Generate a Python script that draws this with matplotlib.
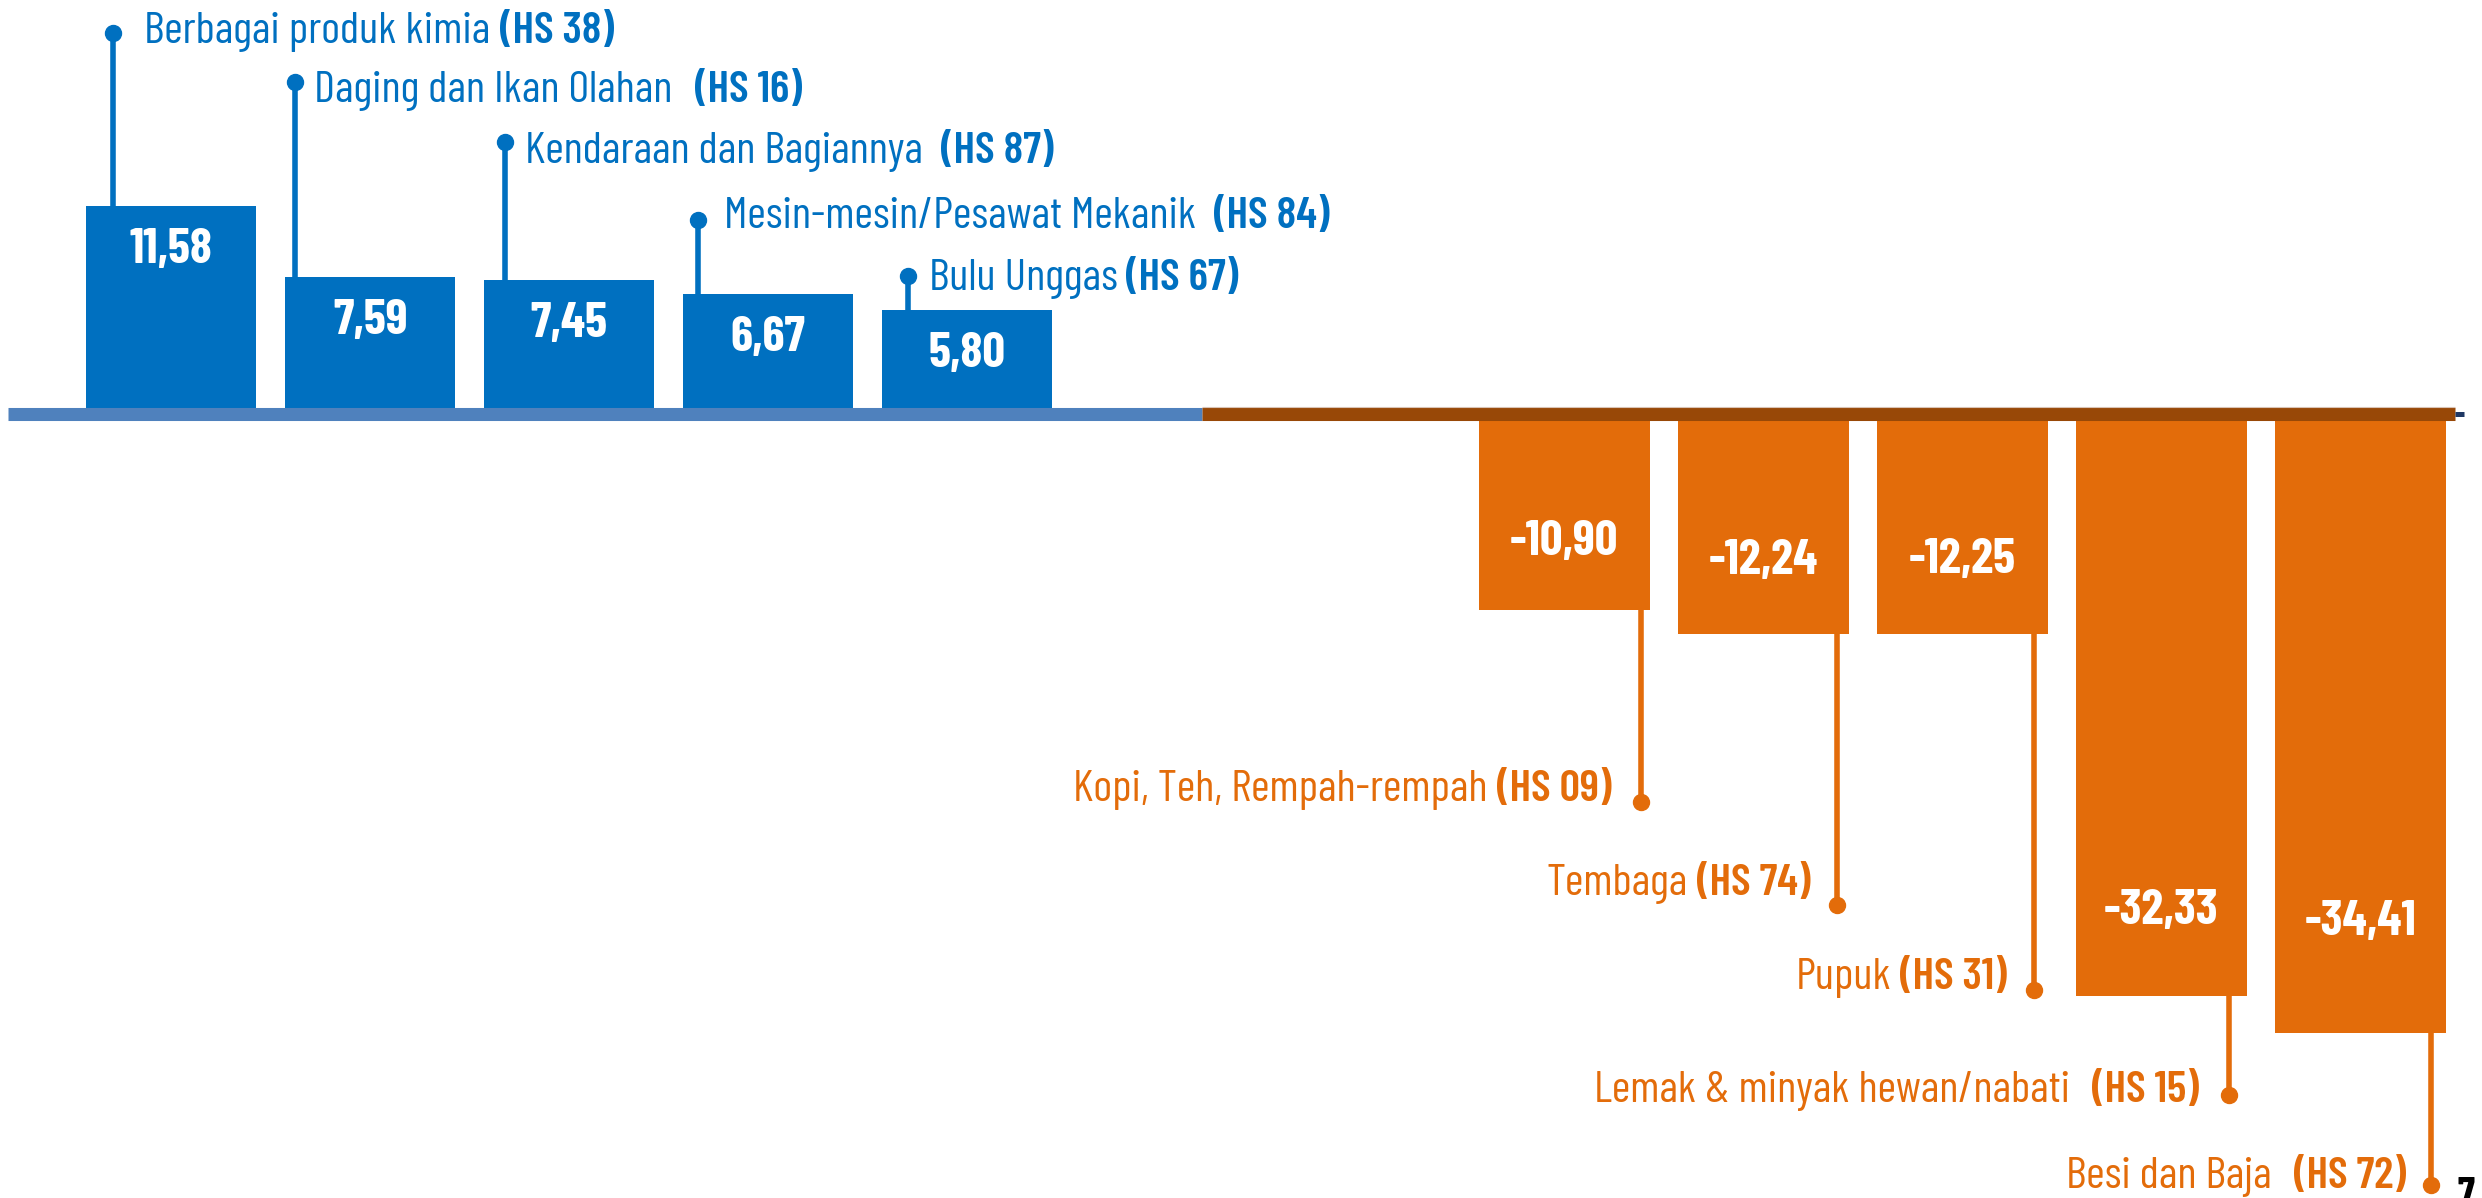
import matplotlib
matplotlib.use("Agg")
import matplotlib.pyplot as plt
from matplotlib import font_manager
from matplotlib.transforms import offset_copy

# ---------------- data ----------------
pos_names = ["Berbagai produk kimia", "Daging dan Ikan Olahan", "Kendaraan dan Bagiannya",
             "Mesin-mesin/Pesawat Mekanik", "Bulu Unggas"]
pos_codes = ["(HS 38)", "(HS 16)", "(HS 87)", "(HS 84)", "(HS 67)"]
pos_values = [11.58, 7.59, 7.45, 6.67, 5.80]

neg_names = ["Kopi, Teh, Rempah-rempah", "Tembaga", "Pupuk",
             "Lemak & minyak hewan/nabati", "Besi dan Baja"]
neg_codes = ["(HS 09)", "(HS 74)", "(HS 31)", "(HS 15)", "(HS 72)"]
neg_values = [-10.90, -12.24, -12.25, -32.33, -34.41]

page_number = "7"

# ---------------- layout ----------------
pos_x = [0, 1, 2, 3, 4]
neg_x = [7, 8, 9, 10, 11]
pos_spaces = [1, 2.5, 2, 2, 1]
neg_spaces = [1, 1, 1, 2.5, 2.5]
pos_leader_dx = [-0.29, -0.38, -0.325, -0.355, -0.30]
pos_dot_y = [21.17, 18.44, 15.11, 10.78, 7.67]
pos_text_y = [20.61, 17.33, 13.94, 10.33, 6.89]
pos_text_gap = [0.155, 0.10, 0.105, 0.13, 0.105]
pos_val_drop = 3.17
neg_leader_dx = [0.384, 0.369, 0.359, 0.339, 0.354]
neg_dot_y = [-21.56, -27.28, -32.0, -37.83, -42.83]
neg_text_y = [-21.5, -26.72, -31.94, -38.22, -43.0]
neg_text_gap = [0.15, 0.135, 0.135, 0.15, 0.125]
neg_val_rise = [3.07, 3.35, 3.42, 4.0, 5.47]

BLUE = "#0070C0"
ORANGE = "#E36C0A"
AXIS_BLUE = "#4F81BD"
AXIS_BROWN = "#984807"
NAVY = "#1F3864"

names = sorted({f.name for f in font_manager.fontManager.ttflist})


def pick(cands):
    for c in cands:
        if c in names:
            return c
    return "DejaVu Sans"


FONT = pick(["Liberation Sans Narrow", "Arial Narrow", "Barlow Condensed",
             "Pragati Narrow", "Roboto Condensed", "Liberation Sans"])
FS_LABEL = 32.4
FS_VALUE = 36

fig = plt.figure(figsize=(24.82, 11.98), dpi=100)
ax = fig.add_axes([0, 0, 1, 1])
ax.set_xlim(-0.86, 11.61)
ax.set_ylim(-43.56, 23.0)
ax.axis("off")

W = 0.855
ax.bar(pos_x, pos_values, width=W, color=BLUE, zorder=2)
ax.bar(neg_x, neg_values, width=W, color=ORANGE, zorder=2)

# axis band
ax.plot([-0.82, 5.18], [0, 0], color=AXIS_BLUE, lw=9.4, solid_capstyle="butt", zorder=3)
ax.plot([5.18, 11.475], [0, 0], color=AXIS_BROWN, lw=9.4, solid_capstyle="butt", zorder=3)
ax.plot([5.18, 11.475], [0.36, 0.36], color="#D9C3B5", lw=0.8, solid_capstyle="butt", zorder=3)
ax.plot([11.475, 11.52], [0, 0], color=NAVY, lw=3.6, solid_capstyle="butt", zorder=3)

renderer = fig.canvas.get_renderer()


def text_width(s, **kw):
    t = ax.text(0, 0, s, **kw)
    w = t.get_window_extent(renderer).width
    t.remove()
    return w


reg = dict(fontsize=FS_LABEL, family=FONT)
bld = dict(fontsize=FS_LABEL, family=FONT, fontweight="semibold")
space_w = text_width("x x", **reg) - text_width("xx", **reg)

# positive labels
for i, v in enumerate(pos_values):
    lx = pos_x[i] + pos_leader_dx[i]
    ax.plot([lx, lx], [v, pos_dot_y[i]], color=BLUE, lw=4, zorder=1, solid_capstyle="butt")
    ax.plot(lx, pos_dot_y[i], "o", color=BLUE, ms=11.5, zorder=4)
    tx = lx + pos_text_gap[i]
    t1 = ax.text(tx, pos_text_y[i], pos_names[i], ha="left", va="baseline", color=BLUE, **reg)
    w = t1.get_window_extent(renderer).width + pos_spaces[i] * space_w
    ax.text(tx, pos_text_y[i], pos_codes[i], ha="left", va="baseline", color=BLUE,
            transform=offset_copy(ax.transData, fig=fig, x=w, y=0, units="dots"), **bld)
    ax.text(pos_x[i], v - pos_val_drop, f"{v:.2f}".replace(".", ","), ha="center",
            va="baseline", color="white", fontsize=FS_VALUE, fontweight="bold",
            family=FONT, zorder=5)

# negative labels
for i, v in enumerate(neg_values):
    lx = neg_x[i] + neg_leader_dx[i]
    ax.plot([lx, lx], [v + 2, neg_dot_y[i]], color=ORANGE, lw=4, zorder=3, solid_capstyle="butt")
    ax.plot(lx, neg_dot_y[i], "o", color=ORANGE, ms=11.5, zorder=4)
    tx = lx - neg_text_gap[i]
    t2 = ax.text(tx, neg_text_y[i], neg_codes[i], ha="right", va="baseline", color=ORANGE, **bld)
    w = t2.get_window_extent(renderer).width + neg_spaces[i] * space_w
    ax.text(tx, neg_text_y[i], neg_names[i], ha="right", va="baseline", color=ORANGE,
            transform=offset_copy(ax.transData, fig=fig, x=-w, y=0, units="dots"), **reg)
    ax.text(neg_x[i], v + neg_val_rise[i], f"{v:.2f}".replace(".", ","), ha="center",
            va="baseline", color="white", fontsize=FS_VALUE, fontweight="bold",
            family=FONT, zorder=5)

fig.text(2458 / 2482, -0.0075, page_number, ha="left", va="baseline", fontsize=30,
         fontweight="bold", color="black", family=FONT)

fig.savefig("out.png", dpi=100)
